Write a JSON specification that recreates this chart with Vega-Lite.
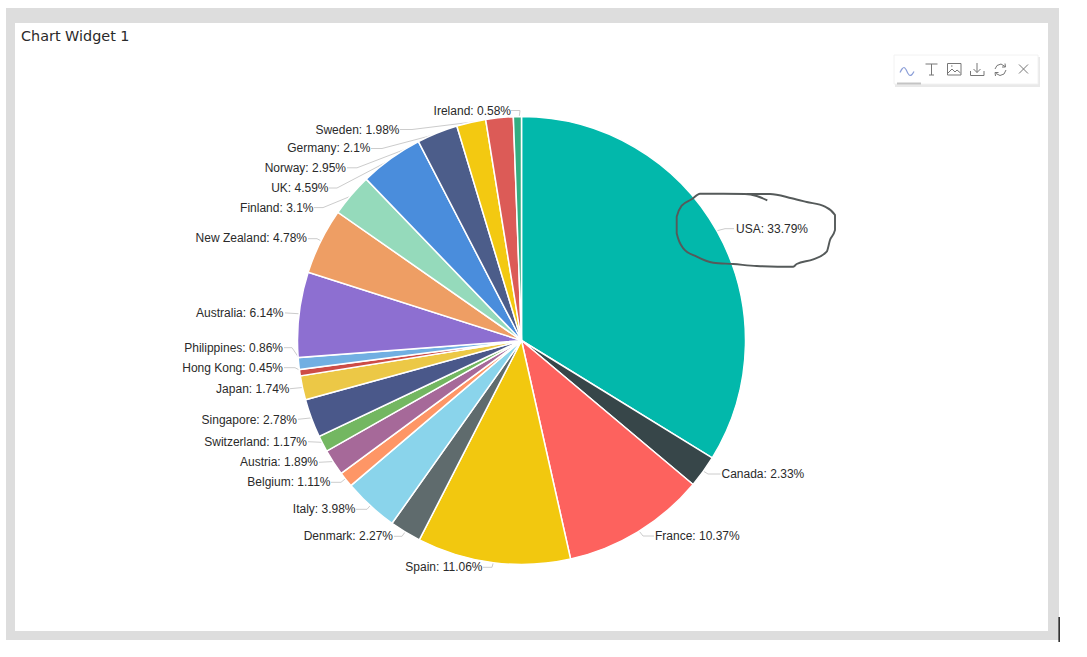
{"$schema":"https://vega.github.io/schema/vega-lite/v6.json","width":1087,"height":657,"padding":0,"autosize":{"type":"fit","contains":"padding"},"background":"white","config":{"view":{"stroke":null}},
"datasets":{
"slices":[
{"country":"USA","share":33.79,"ord":1,"label":"USA: 33.79%","lx":736,"ly":228.7,"side":"r"},
{"country":"Canada","share":2.33,"ord":2,"label":"Canada: 2.33%","lx":721.5,"ly":474.3,"side":"r"},
{"country":"France","share":10.37,"ord":3,"label":"France: 10.37%","lx":655,"ly":536.3,"side":"r"},
{"country":"Spain","share":11.06,"ord":4,"label":"Spain: 11.06%","lx":482.5,"ly":567.3,"side":"l"},
{"country":"Denmark","share":2.27,"ord":5,"label":"Denmark: 2.27%","lx":393,"ly":536.3,"side":"l"},
{"country":"Italy","share":3.98,"ord":6,"label":"Italy: 3.98%","lx":355.5,"ly":509.3,"side":"l"},
{"country":"Belgium","share":1.11,"ord":7,"label":"Belgium: 1.11%","lx":330.5,"ly":482.3,"side":"l"},
{"country":"Austria","share":1.89,"ord":8,"label":"Austria: 1.89%","lx":318,"ly":462.3,"side":"l"},
{"country":"Switzerland","share":1.17,"ord":9,"label":"Switzerland: 1.17%","lx":307,"ly":441.7,"side":"l"},
{"country":"Singapore","share":2.78,"ord":10,"label":"Singapore: 2.78%","lx":297,"ly":419.5,"side":"l"},
{"country":"Japan","share":1.74,"ord":11,"label":"Japan: 1.74%","lx":289.5,"ly":388.7,"side":"l"},
{"country":"Hong Kong","share":0.45,"ord":12,"label":"Hong Kong: 0.45%","lx":283,"ly":367.7,"side":"l"},
{"country":"Philippines","share":0.86,"ord":13,"label":"Philippines: 0.86%","lx":283,"ly":347.7,"side":"l"},
{"country":"Australia","share":6.14,"ord":14,"label":"Australia: 6.14%","lx":283.5,"ly":312.9,"side":"l"},
{"country":"New Zealand","share":4.78,"ord":15,"label":"New Zealand: 4.78%","lx":307,"ly":238.4,"side":"l"},
{"country":"Finland","share":3.1,"ord":16,"label":"Finland: 3.1%","lx":313.5,"ly":207.8,"side":"l"},
{"country":"UK","share":4.59,"ord":17,"label":"UK: 4.59%","lx":328.5,"ly":188,"side":"l"},
{"country":"Norway","share":2.95,"ord":18,"label":"Norway: 2.95%","lx":346,"ly":167.8,"side":"l"},
{"country":"Germany","share":2.1,"ord":19,"label":"Germany: 2.1%","lx":370.5,"ly":148,"side":"l"},
{"country":"Sweden","share":1.98,"ord":20,"label":"Sweden: 1.98%","lx":399.5,"ly":129.7,"side":"l"},
{"country":"Ireland","share":0.58,"ord":21,"label":"Ireland: 0.58%","lx":511,"ly":110.7,"side":"l"}
],
"leaders":[
{"c":"USA","s":1,"x":734,"y":228.7},{"c":"USA","s":2,"x":725,"y":228.7},{"c":"USA","s":3,"x":712,"y":232},
{"c":"Canada","s":1,"x":720.5,"y":474},{"c":"Canada","s":2,"x":708,"y":474},{"c":"Canada","s":3,"x":700,"y":469},
{"c":"France","s":1,"x":654,"y":536},{"c":"France","s":2,"x":643,"y":536},{"c":"France","s":3,"x":636,"y":527},
{"c":"Spain","s":1,"x":483,"y":567.3},{"c":"Spain","s":2,"x":492,"y":567.3},{"c":"Spain","s":3,"x":494,"y":560},
{"c":"Denmark","s":1,"x":394,"y":536.3},{"c":"Denmark","s":2,"x":402,"y":536.3},{"c":"Denmark","s":3,"x":408,"y":528},
{"c":"Italy","s":1,"x":356,"y":509.3},{"c":"Italy","s":2,"x":367,"y":509.3},{"c":"Italy","s":3,"x":375,"y":500},
{"c":"Belgium","s":1,"x":331,"y":482.3},{"c":"Belgium","s":2,"x":341,"y":482.3},{"c":"Belgium","s":3,"x":350,"y":475},
{"c":"Austria","s":1,"x":319,"y":462.3},{"c":"Austria","s":2,"x":338,"y":461.3},
{"c":"Switzerland","s":1,"x":308,"y":441.7},{"c":"Switzerland","s":2,"x":326,"y":442.5},
{"c":"Singapore","s":1,"x":298,"y":419.3},{"c":"Singapore","s":2,"x":315,"y":417.5},
{"c":"Japan","s":1,"x":290,"y":388.7},{"c":"Japan","s":2,"x":308,"y":387},
{"c":"Hong Kong","s":1,"x":284,"y":367.7},{"c":"Hong Kong","s":2,"x":295,"y":367.7},{"c":"Hong Kong","s":3,"x":305,"y":373},
{"c":"Philippines","s":1,"x":284,"y":347.7},{"c":"Philippines","s":2,"x":292,"y":347.7},{"c":"Philippines","s":3,"x":303,"y":364},
{"c":"Australia","s":1,"x":285,"y":312.9},{"c":"Australia","s":2,"x":303,"y":314},
{"c":"New Zealand","s":1,"x":308,"y":238.7},{"c":"New Zealand","s":2,"x":317,"y":238.7},{"c":"New Zealand","s":3,"x":325,"y":243},
{"c":"Finland","s":1,"x":314,"y":207.6},{"c":"Finland","s":2,"x":323,"y":207.6},{"c":"Finland","s":3,"x":356,"y":194},
{"c":"UK","s":1,"x":329,"y":188},{"c":"UK","s":2,"x":337,"y":188},{"c":"UK","s":3,"x":400,"y":155},
{"c":"Norway","s":1,"x":347,"y":167.8},{"c":"Norway","s":2,"x":357,"y":167.8},{"c":"Norway","s":3,"x":445,"y":134},
{"c":"Germany","s":1,"x":371,"y":148.5},{"c":"Germany","s":2,"x":382,"y":148.5},{"c":"Germany","s":3,"x":475,"y":124},
{"c":"Sweden","s":1,"x":400,"y":129.5},{"c":"Sweden","s":2,"x":412,"y":129.5},{"c":"Sweden","s":3,"x":505,"y":118},
{"c":"Ireland","s":1,"x":511,"y":110.5},{"c":"Ireland","s":2,"x":520,"y":110.5},{"c":"Ireland","s":3,"x":519,"y":119}
],
"scribble":[
{"s":1,"x":767.3,"y":200.3},{"s":2,"x":756.7,"y":196},{"s":3,"x":745,"y":194},{"s":4,"x":723.3,"y":193.7},{"s":5,"x":700,"y":193.7},{"s":6,"x":691.7,"y":199.3},{"s":7,"x":681.7,"y":205.7},{"s":8,"x":676.7,"y":216.7},{"s":9,"x":676.7,"y":233.3},{"s":10,"x":683.3,"y":248.3},{"s":11,"x":696.7,"y":256.7},{"s":12,"x":713.3,"y":262.7},{"s":13,"x":733.3,"y":264},{"s":14,"x":756.7,"y":266},{"s":15,"x":793.3,"y":266.7},{"s":16,"x":796.7,"y":264},{"s":17,"x":813.3,"y":259.3},{"s":18,"x":826.7,"y":251.7},{"s":19,"x":830,"y":240},{"s":20,"x":835,"y":230},{"s":21,"x":835,"y":215},{"s":22,"x":825,"y":206.7},{"s":23,"x":806.7,"y":202},{"s":24,"x":791.7,"y":198.3},{"s":25,"x":770,"y":194},{"s":26,"x":746.7,"y":194}
],
"icons":[
{"g":"t1","s":1,"x":925.5,"y":64},{"g":"t1","s":2,"x":937.5,"y":64},
{"g":"t2","s":1,"x":931.5,"y":64},{"g":"t2","s":2,"x":931.5,"y":75},
{"g":"t3","s":1,"x":929,"y":75},{"g":"t3","s":2,"x":934,"y":75},
{"g":"i1","s":1,"x":947.5,"y":63.5},{"g":"i1","s":2,"x":961,"y":63.5},{"g":"i1","s":3,"x":961,"y":75},{"g":"i1","s":4,"x":947.5,"y":75},{"g":"i1","s":5,"x":947.5,"y":63.5},
{"g":"i2","s":1,"x":948,"y":73},{"g":"i2","s":2,"x":952,"y":69},{"g":"i2","s":3,"x":955,"y":72},{"g":"i2","s":4,"x":957,"y":70},{"g":"i2","s":5,"x":960.5,"y":73},
{"g":"i3","s":1,"x":951,"y":66},{"g":"i3","s":2,"x":952.5,"y":66},
{"g":"d1","s":1,"x":977,"y":63},{"g":"d1","s":2,"x":977,"y":72.5},
{"g":"d2","s":1,"x":973.5,"y":69},{"g":"d2","s":2,"x":977,"y":72.5},{"g":"d2","s":3,"x":980.5,"y":69},
{"g":"d3","s":1,"x":970.5,"y":71},{"g":"d3","s":2,"x":970.5,"y":75.5},{"g":"d3","s":3,"x":984,"y":75.5},{"g":"d3","s":4,"x":984,"y":71},
{"g":"r1","s":1,"x":995,"y":69},{"g":"r1","s":2,"x":997,"y":65.5},{"g":"r1","s":3,"x":1001,"y":64},{"g":"r1","s":4,"x":1005,"y":66.5},
{"g":"r2","s":1,"x":1005,"y":63.5},{"g":"r2","s":2,"x":1005.5,"y":67},{"g":"r2","s":3,"x":1002,"y":67},
{"g":"r3","s":1,"x":1006,"y":70},{"g":"r3","s":2,"x":1004,"y":74},{"g":"r3","s":3,"x":1000,"y":75.5},{"g":"r3","s":4,"x":996,"y":73.5},
{"g":"r4","s":1,"x":995.5,"y":76},{"g":"r4","s":2,"x":995,"y":72.5},{"g":"r4","s":3,"x":998.5,"y":72.5},
{"g":"x1","s":1,"x":1019,"y":64.5},{"g":"x1","s":2,"x":1028,"y":73.5},
{"g":"x2","s":1,"x":1028,"y":64.5},{"g":"x2","s":2,"x":1019,"y":73.5}
],
"wave":[
{"s":1,"x":900,"y":72.5},{"s":2,"x":902,"y":69},{"s":3,"x":904,"y":67.5},{"s":4,"x":906,"y":69.5},{"s":5,"x":908,"y":73.5},{"s":6,"x":910,"y":75.5},{"s":7,"x":912,"y":74.5},{"s":8,"x":914,"y":71.5}
]
},
"layer":[
{"data":{"values":[{"x":6,"x2":1059,"y":8,"y2":640}]},"mark":{"type":"rect","fill":"#dddddd"},"encoding":{"x":{"field":"x","type":"quantitative","scale":{"domain":[0,1087]},"axis":null},"x2":{"field":"x2"},"y":{"field":"y","type":"quantitative","scale":{"domain":[657,0]},"axis":null},"y2":{"field":"y2"}}},
{"data":{"values":[{"x":15,"x2":1048,"y":23,"y2":631}]},"mark":{"type":"rect","fill":"#ffffff"},"encoding":{"x":{"field":"x","type":"quantitative","scale":{"domain":[0,1087]},"axis":null},"x2":{"field":"x2"},"y":{"field":"y","type":"quantitative","scale":{"domain":[657,0]},"axis":null},"y2":{"field":"y2"}}},
{"data":{"values":[{"x":1058.5,"x2":1059.8,"y":617,"y2":642}]},"mark":{"type":"rect","fill":"#000000"},"encoding":{"x":{"field":"x","type":"quantitative","scale":{"domain":[0,1087]},"axis":null},"x2":{"field":"x2"},"y":{"field":"y","type":"quantitative","scale":{"domain":[657,0]},"axis":null},"y2":{"field":"y2"}}},
{"data":{"name":"leaders"},"mark":{"type":"line","stroke":"#cccccc","strokeWidth":1,"interpolate":"linear"},"encoding":{"x":{"field":"x","type":"quantitative","scale":{"domain":[0,1087]},"axis":null},"y":{"field":"y","type":"quantitative","scale":{"domain":[657,0]},"axis":null},"detail":{"field":"c"},"order":{"field":"s","type":"quantitative"}}},
{"data":{"name":"slices"},"mark":{"type":"arc","outerRadius":224,"stroke":"#ffffff","strokeWidth":1.5},"encoding":{"x":{"datum":521.5,"type":"quantitative","scale":{"domain":[0,1087]},"axis":null},"y":{"datum":340.5,"type":"quantitative","scale":{"domain":[657,0]},"axis":null},"theta":{"field":"share","type":"quantitative","stack":true},"order":{"field":"ord","type":"quantitative"},"color":{"field":"country","type":"nominal","legend":null,"scale":{"domain":["USA","Canada","France","Spain","Denmark","Italy","Belgium","Austria","Switzerland","Singapore","Japan","Hong Kong","Philippines","Australia","New Zealand","Finland","UK","Norway","Germany","Sweden","Ireland"],"range":["#02B8AB","#374649","#FD625E","#F2C80F","#5F6B6D","#8AD4EB","#FE9666","#A66999","#73B761","#4A588A","#ECC846","#CD4C46","#71AFE2","#8D6FD1","#EE9E64","#95DABB","#4A8DDC","#4C5D8A","#F3C911","#DC5B57","#33AE81"]}}}},
{"data":{"name":"slices"},"transform":[{"filter":"datum.side=='l'"}],"mark":{"type":"text","align":"right","baseline":"middle","font":"Liberation Sans","fontSize":12,"fill":"#2a2a2a"},"encoding":{"x":{"field":"lx","type":"quantitative","scale":{"domain":[0,1087]},"axis":null},"y":{"field":"ly","type":"quantitative","scale":{"domain":[657,0]},"axis":null},"text":{"field":"label"}}},
{"data":{"name":"slices"},"transform":[{"filter":"datum.side=='r'"}],"mark":{"type":"text","align":"left","baseline":"middle","font":"Liberation Sans","fontSize":12,"fill":"#2a2a2a"},"encoding":{"x":{"field":"lx","type":"quantitative","scale":{"domain":[0,1087]},"axis":null},"y":{"field":"ly","type":"quantitative","scale":{"domain":[657,0]},"axis":null},"text":{"field":"label"}}},
{"data":{"values":[{"x":21,"y":37.2,"t":"Chart Widget 1"}]},"mark":{"type":"text","align":"left","baseline":"middle","font":"DejaVu Sans","fontSize":14.4,"fill":"#2a2a2a"},"encoding":{"x":{"field":"x","type":"quantitative","scale":{"domain":[0,1087]},"axis":null},"y":{"field":"y","type":"quantitative","scale":{"domain":[657,0]},"axis":null},"text":{"field":"t"}}},
{"data":{"values":[{"x":895,"x2":1040,"y":57,"y2":87}]},"mark":{"type":"rect","fill":"#e9e9e9"},"encoding":{"x":{"field":"x","type":"quantitative","scale":{"domain":[0,1087]},"axis":null},"x2":{"field":"x2"},"y":{"field":"y","type":"quantitative","scale":{"domain":[657,0]},"axis":null},"y2":{"field":"y2"}}},
{"data":{"values":[{"x":894,"x2":1038,"y":55,"y2":84}]},"mark":{"type":"rect","fill":"#ffffff","stroke":"#f2f2f2","strokeWidth":1},"encoding":{"x":{"field":"x","type":"quantitative","scale":{"domain":[0,1087]},"axis":null},"x2":{"field":"x2"},"y":{"field":"y","type":"quantitative","scale":{"domain":[657,0]},"axis":null},"y2":{"field":"y2"}}},
{"data":{"values":[{"x":897,"x2":921,"y":82.5,"y2":84.5}]},"mark":{"type":"rect","fill":"#c4c4c4"},"encoding":{"x":{"field":"x","type":"quantitative","scale":{"domain":[0,1087]},"axis":null},"x2":{"field":"x2"},"y":{"field":"y","type":"quantitative","scale":{"domain":[657,0]},"axis":null},"y2":{"field":"y2"}}},
{"data":{"name":"icons"},"mark":{"type":"line","stroke":"#777777","strokeWidth":1},"encoding":{"x":{"field":"x","type":"quantitative","scale":{"domain":[0,1087]},"axis":null},"y":{"field":"y","type":"quantitative","scale":{"domain":[657,0]},"axis":null},"detail":{"field":"g"},"order":{"field":"s","type":"quantitative"}}},
{"data":{"name":"wave"},"mark":{"type":"line","stroke":"#8c9fd8","strokeWidth":1.2,"interpolate":"monotone"},"encoding":{"x":{"field":"x","type":"quantitative","scale":{"domain":[0,1087]},"axis":null},"y":{"field":"y","type":"quantitative","scale":{"domain":[657,0]},"axis":null},"order":{"field":"s","type":"quantitative"}}},
{"data":{"name":"scribble"},"mark":{"type":"line","stroke":"#555a5a","strokeWidth":1.9,"interpolate":"monotone"},"encoding":{"x":{"field":"x","type":"quantitative","scale":{"domain":[0,1087]},"axis":null},"y":{"field":"y","type":"quantitative","scale":{"domain":[657,0]},"axis":null},"order":{"field":"s","type":"quantitative"}}}
]}
